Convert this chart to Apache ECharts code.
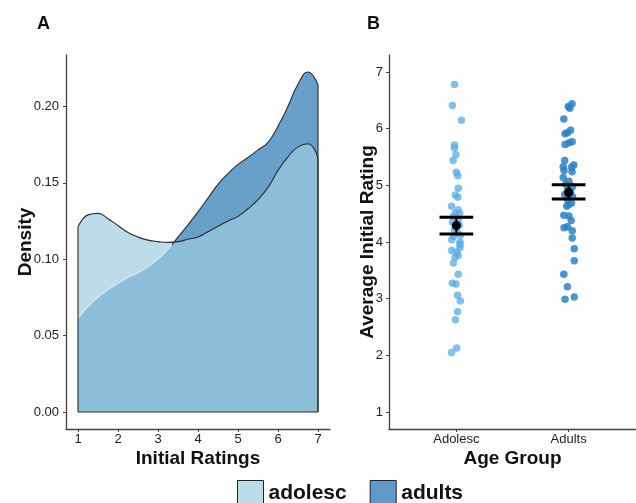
<!DOCTYPE html>
<html><head><meta charset="utf-8">
<script src="https://cdn.jsdelivr.net/npm/echarts@6/dist/echarts.min.js"></script>
<style>html,body{margin:0;padding:0;background:#fdfdfe}#c{width:636px;height:503px}</style>
</head><body><div id="c"></div>
<script>
// ---- Panel A: density estimates ----
const ratingGrid = [1,1.25,1.5,1.75,2,2.25,2.5,2.75,3,3.25,3.5,3.75,4,4.25,4.5,4.75,5,5.25,5.5,5.75,6,6.25,6.5,6.75,7];
const adolescDensity = [0.121,0.129,0.130,0.1265,0.122,0.1175,0.1145,0.1125,0.1115,0.111,0.1115,0.113,0.1145,0.118,0.1215,0.125,0.128,0.133,0.139,0.147,0.158,0.167,0.1735,0.1755,0.166];
const adultsDensity  = [0.061,0.069,0.075,0.080,0.084,0.088,0.091,0.095,0.100,0.1065,0.1145,0.1225,0.131,0.140,0.149,0.156,0.162,0.1665,0.1715,0.1765,0.187,0.200,0.2145,0.2225,0.214];
const densityTicksX = [1,2,3,4,5,6,7];
const densityTicksY = [0,0.05,0.10,0.15,0.20];

// ---- Panel B: individual averages ----
const groupNames = ['Adolesc','Adults'];
const groupPos = [1,2];
const ratingTicks = [1,2,3,4,5,6,7];
const adolescRatings = [6.78,6.41,6.15,5.71,5.66,5.54,5.44,5.23,5.17,4.95,4.83,4.79,4.63,4.57,4.51,4.50,4.45,4.40,4.35,4.30,4.22,4.17,4.12,4.10,4.04,4.00,3.96,3.90,3.85,3.82,3.76,3.73,3.63,3.43,3.27,3.26,3.06,2.96,2.77,2.63,2.13,2.05];
const adolescJitter  = [-0.017,-0.035,0.046,-0.017,-0.017,-0.004,-0.029,0,0.013,0.017,-0.009,0.013,-0.043,0.017,-0.009,0.03,-0.026,0.017,-0.035,0.026,-0.017,0.009,0.035,-0.026,-0.041,0.032,0.032,0.032,-0.041,0.003,0.017,-0.011,-0.026,0.017,-0.035,-0.004,0.011,0.035,0.011,-0.009,0.003,-0.043];
const adultsRatings = [6.44,6.39,6.36,6.17,5.97,5.93,5.91,5.77,5.75,5.72,5.44,5.36,5.33,5.32,5.26,5.24,5.14,5.07,5.02,4.98,4.93,4.88,4.84,4.80,4.75,4.69,4.66,4.63,4.47,4.46,4.38,4.27,4.25,4.20,4.07,3.88,3.67,3.43,3.21,3.03,2.99];
const adultsJitter  = [0.03,-0.003,0.011,-0.043,0.017,-0.011,-0.032,0.032,0.003,-0.032,-0.035,0.046,-0.048,0.026,-0.041,0.03,-0.048,0.003,-0.026,0.035,-0.009,0.017,-0.035,0.035,-0.009,0.026,0.003,-0.017,-0.043,0.003,0.023,-0.011,-0.041,0.032,0.032,0.05,0.05,-0.043,-0.011,0.05,-0.032];
const groupMean = [4.29, 4.875];
const groupLow  = [4.14, 4.76];
const groupHigh = [4.435, 5.01];
const legendNames = ['adolesc','adults'];

const FONT = '"Liberation Sans", Arial, Helvetica, sans-serif';
const axisCol = '#4a3f3d';
const textCol = '#1e1e1e';
const outline = '#2b2b2b';
const n = ratingGrid.length;
const xFirst = ratingGrid[0], xLast = ratingGrid[n-1];
const crossFrac = (3.37 - xFirst) / (xLast - xFirst);

function axisCommon(extra) {
  return Object.assign({
    axisLine: {show: true, onZero: false, lineStyle: {color: axisCol, width: 1.3}},
    splitLine: {show: false},
    nameMoveOverlap: false,
    nameTextStyle: {fontFamily: FONT, fontWeight: 'bold', fontSize: 19, color: '#111'}
  }, extra);
}
function tick(vals) {
  return {show: true, length: 3, inside: false, customValues: vals, lineStyle: {color: axisCol, width: 1}};
}

const chart = echarts.init(document.getElementById('c'), null, {renderer: 'canvas'});
chart.setOption({
  animation: false,
  backgroundColor: '#fdfdfe',
  title: [
    {text: 'A', left: 32, top: 10, textStyle: {fontFamily: FONT, fontWeight: 'bold', fontSize: 18, color: '#111'}},
    {text: 'B', left: 362, top: 10, textStyle: {fontFamily: FONT, fontWeight: 'bold', fontSize: 18, color: '#111'}}
  ],
  legend: {
    left: 237, top: 480, padding: 0, itemWidth: 26, itemHeight: 26, itemGap: 23,
    textStyle: {fontFamily: FONT, fontWeight: 'bold', fontSize: 21, color: '#111'},
    selectedMode: false,
    data: [
      {name: legendNames[0], icon: 'rect', itemStyle: {color: '#bddcea', borderColor: '#222', borderWidth: 1}},
      {name: legendNames[1], icon: 'rect', itemStyle: {color: '#6199c8', borderColor: '#222', borderWidth: 1}}
    ]
  },
  grid: [
    {left: 66, top: 55, width: 264, height: 374},
    {left: 389, top: 55, width: 253, height: 374}
  ],
  xAxis: [
    axisCommon({type: 'value', gridIndex: 0, min: 0.7, max: 7.3,
      name: 'Initial Ratings', nameLocation: 'middle', nameGap: 20,
      axisTick: tick(densityTicksX),
      axisLabel: {customValues: densityTicksX, margin: 4, fontFamily: FONT, fontSize: 13, color: textCol}}),
    axisCommon({type: 'value', gridIndex: 1, min: 0.4, max: 2.6,
      name: 'Age Group', nameLocation: 'middle', nameGap: 20,
      axisTick: tick(groupPos),
      axisLabel: {customValues: groupPos, margin: 4, fontFamily: FONT, fontSize: 13, color: textCol,
        formatter: v => groupNames[groupPos.indexOf(Math.round(v))] || ''}})
  ],
  yAxis: [
    axisCommon({type: 'value', gridIndex: 0, min: -0.0111, max: 0.2336,
      name: 'Density', nameLocation: 'middle', nameGap: 31,
      axisTick: tick(densityTicksY),
      axisLabel: {customValues: densityTicksY, margin: 7, fontFamily: FONT, fontSize: 13, color: textCol,
        formatter: v => v.toFixed(2)}}),
    axisCommon({type: 'value', gridIndex: 1, min: 0.7, max: 7.3,
      name: 'Average Initial Rating', nameLocation: 'middle', nameGap: 12,
      axisTick: tick(ratingTicks),
      axisLabel: {customValues: ratingTicks, margin: 6, fontFamily: FONT, fontSize: 13, color: textCol}})
  ],
  series: [
    {name: legendNames[1], type: 'line', xAxisIndex: 0, yAxisIndex: 0, smooth: 0.5, symbol: 'none',
      data: ratingGrid.map((x, i) => [x, adultsDensity[i]]),
      lineStyle: {width: 1.1, color: {type: 'linear', x: 0, y: 0, x2: 1, y2: 0, colorStops: [
        {offset: 0, color: 'rgba(235,245,250,0.7)'}, {offset: crossFrac - 0.003, color: 'rgba(235,245,250,0.7)'},
        {offset: crossFrac, color: outline}, {offset: 1, color: outline}]}},
      areaStyle: {color: '#68a0ca', opacity: 1}},
    {name: 'adultsEdge', type: 'line', xAxisIndex: 0, yAxisIndex: 0, symbol: 'none',
      data: [[xLast, 0], [xLast, adultsDensity[n-1]]], lineStyle: {width: 1.1, color: outline}},
    {name: legendNames[0], type: 'line', xAxisIndex: 0, yAxisIndex: 0, smooth: 0.5, symbol: 'none',
      data: ratingGrid.map((x, i) => [x, adolescDensity[i]]),
      lineStyle: {width: 1.1, color: outline},
      areaStyle: {color: 'rgb(157,204,224)', opacity: 0.68}},
    {name: 'adolescEdge', type: 'line', xAxisIndex: 0, yAxisIndex: 0, symbol: 'none',
      data: [[xFirst, adolescDensity[0]], [xFirst, 0], [xLast, 0], [xLast, adolescDensity[n-1]]],
      lineStyle: {width: 1.1, color: outline}},
    {name: 'adolescPts', type: 'scatter', xAxisIndex: 1, yAxisIndex: 1, symbolSize: 7.5,
      data: adolescRatings.map((v, i) => [groupPos[0] + adolescJitter[i], v]),
      itemStyle: {color: '#5aaae0', opacity: 0.75}},
    {name: 'adultsPts', type: 'scatter', xAxisIndex: 1, yAxisIndex: 1, symbolSize: 7.5,
      data: adultsRatings.map((v, i) => [groupPos[1] + adultsJitter[i], v]),
      itemStyle: {color: '#2f80c0', opacity: 0.85}},
    {name: 'meanSE', type: 'custom', xAxisIndex: 1, yAxisIndex: 1, z: 10,
      data: groupPos.map((p, i) => [p, groupLow[i], groupHigh[i], groupMean[i]]),
      renderItem: function (params, api) {
        const x = api.value(0), hw = 0.15;
        const l0 = api.coord([x - hw, api.value(1)]), l1 = api.coord([x + hw, api.value(1)]);
        const h0 = api.coord([x - hw, api.value(2)]), h1 = api.coord([x + hw, api.value(2)]);
        const c = api.coord([x, api.value(3)]);
        const st = {stroke: '#000', lineWidth: 3};
        return {type: 'group', children: [
          {type: 'line', shape: {x1: c[0], y1: l0[1], x2: c[0], y2: h0[1]}, style: {stroke: '#000', lineWidth: 2}},
          {type: 'line', shape: {x1: l0[0], y1: l0[1], x2: l1[0], y2: l1[1]}, style: st},
          {type: 'line', shape: {x1: h0[0], y1: h0[1], x2: h1[0], y2: h1[1]}, style: st},
          {type: 'circle', shape: {cx: c[0], cy: c[1], r: 4.6}, style: {fill: '#000'}}
        ]};
      }}
  ]
});
</script></body></html>
